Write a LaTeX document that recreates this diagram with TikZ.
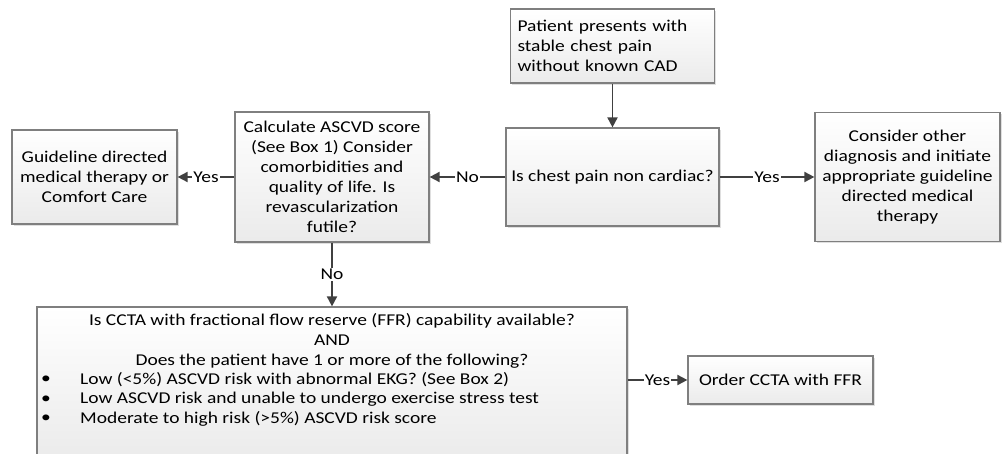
\documentclass[tikz,border=0pt]{standalone}
\usepackage{fontspec}
\setmainfont{Carlito}[FakeStretch=1.18]
\usetikzlibrary{arrows.meta,positioning,shadows}
\definecolor{linegray}{HTML}{404040}
\definecolor{edgegray}{HTML}{7F7F7F}
\tikzset{
  box/.style={draw=edgegray, line width=1.2pt, top color=white, bottom color=gray!16,
    inner sep=0pt, align=center,
    drop shadow={opacity=0.25, shadow xshift=1.5pt, shadow yshift=-1.5pt}},
  arr/.style={draw=linegray, line width=1.8pt, -{Triangle[length=10pt,width=10pt]}},
  lbl/.style={fill=white, inner sep=1pt}
}

\begin{document}
\begin{tikzpicture}[x=1pt,y=-1pt,font=\fontsize{16.5}{20}\selectfont]
  \useasboundingbox (0,0) rectangle (1002,453);

  \node[box, minimum width=204pt, minimum height=74pt, text width=190pt, inner xsep=7pt, align=left] (patient) at (612.5,46) {Patient presents with\\stable chest pain\\without known CAD};
  \node[box, minimum width=213pt, minimum height=98pt] (noncardiac) at (612.5,177) {Is chest pain non cardiac?};
  \node[box, minimum width=185pt, minimum height=129pt] (otherdx) at (907.5,177) {Consider other\\diagnosis and initiate\\appropriate guideline\\directed medical\\therapy};
  \node[box, minimum width=194pt, minimum height=130pt] (ascvd) at (332,177) {Calculate ASCVD score\\(See Box 1) Consider\\comorbidities and\\quality of life. Is\\revascularization\\futile?};
  \node[box, minimum width=165pt, minimum height=94pt] (gdmt) at (94.5,177) {Guideline directed\\medical therapy or\\Comfort Care};

  % CCTA question box, runs off the bottom edge
  \node[box, minimum width=590pt, minimum height=153pt] (ccta) at (332,383.5) {};
  \node[align=center, inner sep=0pt] (cctaq) at (332,341) {Is CCTA with fractional flow reserve (FFR) capability available?\\AND\\Does the patient have 1 or more of the following?};
  \foreach \t [count=\i] in {{Low (<5\%) ASCVD risk with abnormal EKG? (See Box 2)},
                             {Low ASCVD risk and unable to undergo exercise stress test},
                             {Moderate to high risk (>5\%) ASCVD risk score}}
  {
    \node[inner sep=0pt] (bul\i) at (46,360.5+19.5*\i) {\textbullet};
    \node[anchor=west, inner sep=0pt] (item\i) at (80,360.5+19.5*\i) {\t};
  }
  \node[box, minimum width=185pt, minimum height=48pt] (order) at (780.5,380) {Order CCTA with FFR};

  \draw[arr] (patient) -- (noncardiac);
  \draw[arr] (noncardiac) -- node[lbl] {No} (ascvd);
  \draw[arr] (noncardiac) -- node[lbl] {Yes} (otherdx);
  \draw[arr] (ascvd) -- node[lbl] {Yes} (gdmt);
  \draw[arr] (ascvd) -- node[lbl] {No} (ccta);
  \draw[arr] (ccta.east |- order) -- node[lbl] {Yes} (order);
\end{tikzpicture}
\end{document}
